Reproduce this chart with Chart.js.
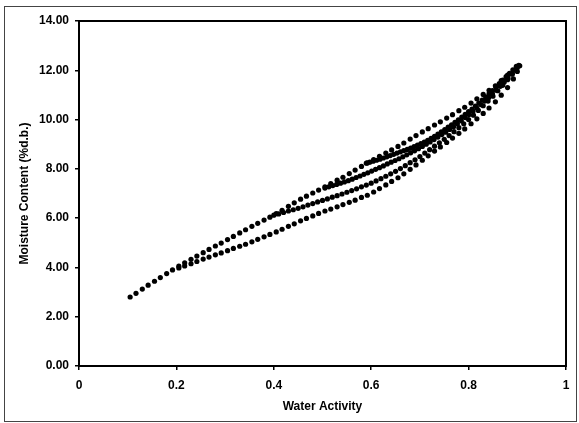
<!DOCTYPE html>
<html lang="en">
<head>
  <meta charset="UTF-8">
  <title>Moisture Sorption</title>
  <script src="https://cdn.jsdelivr.net/npm/chart.js"></script>
  <style>
    body {
      margin: 0;
      background: #ffffff;
    }
    canvas {
      display: block;
    }
  </style>
</head>
<body>

  <canvas id="sorptionChart" width="579" height="423"></canvas>

  <script>
    const xTickLabels = ['0', '0.2', '0.4', '0.6', '0.8', '1'];
    const yTickLabels = ['0.00', '2.00', '4.00', '6.00', '8.00', '10.00', '12.00', '14.00'];

    // upper dotted curve (whole range)
    const curveTop = [
      [0.105, 2.80], [0.117, 2.95], [0.130, 3.12], [0.142, 3.28], [0.155, 3.44], [0.167, 3.59],
      [0.180, 3.75], [0.192, 3.90], [0.205, 4.05], [0.217, 4.19], [0.230, 4.33], [0.242, 4.46],
      [0.255, 4.60], [0.267, 4.73], [0.280, 4.87], [0.292, 4.99], [0.305, 5.13], [0.317, 5.26],
      [0.330, 5.40], [0.342, 5.53], [0.355, 5.67], [0.367, 5.79], [0.380, 5.92], [0.392, 6.04],
      [0.405, 6.18], [0.417, 6.32], [0.430, 6.48], [0.442, 6.62], [0.455, 6.77], [0.467, 6.89],
      [0.480, 7.02], [0.492, 7.14], [0.505, 7.27], [0.517, 7.40], [0.530, 7.54], [0.542, 7.66],
      [0.555, 7.81], [0.567, 7.95], [0.580, 8.10], [0.592, 8.24], [0.605, 8.38], [0.617, 8.51],
      [0.630, 8.64], [0.642, 8.77], [0.655, 8.91], [0.667, 9.05], [0.680, 9.21], [0.692, 9.35],
      [0.705, 9.50], [0.717, 9.63], [0.730, 9.78], [0.742, 9.91], [0.755, 10.06], [0.767, 10.20],
      [0.780, 10.36], [0.792, 10.50], [0.805, 10.67], [0.817, 10.84], [0.830, 11.02], [0.842, 11.19],
      [0.855, 11.37], [0.867, 11.58], [0.880, 11.80], [0.892, 12.00], [0.903, 12.20]
    ];

    // lower dotted curve
    const curveBottom = [
      [0.205, 3.98], [0.217, 4.06], [0.230, 4.15], [0.242, 4.24], [0.255, 4.34], [0.267, 4.42],
      [0.280, 4.51], [0.292, 4.59], [0.305, 4.68], [0.317, 4.77], [0.330, 4.86], [0.342, 4.94],
      [0.355, 5.04], [0.367, 5.14], [0.380, 5.24], [0.392, 5.34], [0.405, 5.44], [0.417, 5.55],
      [0.430, 5.67], [0.442, 5.77], [0.455, 5.89], [0.467, 5.99], [0.480, 6.09], [0.492, 6.19],
      [0.505, 6.29], [0.517, 6.37], [0.530, 6.46], [0.542, 6.55], [0.555, 6.64], [0.567, 6.73],
      [0.580, 6.84], [0.592, 6.93], [0.605, 7.06], [0.617, 7.20], [0.630, 7.35], [0.642, 7.49],
      [0.655, 7.64], [0.667, 7.80], [0.680, 7.98], [0.692, 8.16], [0.705, 8.35], [0.717, 8.53],
      [0.730, 8.72], [0.742, 8.89], [0.755, 9.07], [0.767, 9.25], [0.780, 9.44], [0.792, 9.62],
      [0.805, 9.83], [0.817, 10.03], [0.830, 10.25], [0.842, 10.47], [0.855, 10.72], [0.867, 10.99],
      [0.880, 11.30], [0.892, 11.65], [0.900, 11.95]
    ];

    // scanning curve from aw 0.4
    const scan40 = [
      [0.40, 6.12], [0.41, 6.17], [0.42, 6.23], [0.43, 6.29], [0.44, 6.34], [0.45, 6.40],
      [0.46, 6.46], [0.47, 6.53], [0.48, 6.59], [0.49, 6.66], [0.50, 6.72], [0.51, 6.78],
      [0.52, 6.85], [0.53, 6.91], [0.54, 6.98], [0.55, 7.05], [0.56, 7.12], [0.57, 7.19],
      [0.58, 7.27], [0.59, 7.34], [0.60, 7.42], [0.61, 7.51], [0.62, 7.60], [0.63, 7.70],
      [0.64, 7.80], [0.65, 7.90], [0.66, 8.01], [0.67, 8.13], [0.68, 8.25], [0.69, 8.37],
      [0.70, 8.50], [0.71, 8.64], [0.72, 8.78], [0.73, 8.92], [0.74, 9.06], [0.75, 9.20],
      [0.76, 9.35], [0.77, 9.51], [0.78, 9.67], [0.79, 9.83], [0.80, 10.00], [0.81, 10.18],
      [0.82, 10.37], [0.83, 10.56], [0.84, 10.75], [0.85, 10.95], [0.86, 11.17], [0.87, 11.39],
      [0.88, 11.62], [0.89, 11.86], [0.90, 12.10]
    ];

    // scanning curve from aw 0.5
    const scan50 = [
      [0.505, 7.22], [0.513, 7.27], [0.521, 7.32], [0.529, 7.37], [0.537, 7.42], [0.545, 7.47],
      [0.553, 7.52], [0.561, 7.58], [0.569, 7.65], [0.577, 7.71], [0.585, 7.78], [0.593, 7.84],
      [0.601, 7.91], [0.609, 7.98], [0.617, 8.05], [0.625, 8.12], [0.633, 8.20], [0.641, 8.27],
      [0.649, 8.34], [0.657, 8.41], [0.665, 8.49], [0.673, 8.57], [0.681, 8.65], [0.689, 8.73],
      [0.697, 8.82], [0.705, 8.91], [0.713, 9.00], [0.721, 9.09], [0.729, 9.19], [0.737, 9.29],
      [0.745, 9.39], [0.753, 9.49], [0.761, 9.60], [0.769, 9.71], [0.777, 9.83], [0.785, 9.95],
      [0.793, 10.08], [0.801, 10.21], [0.809, 10.34], [0.817, 10.47], [0.825, 10.61], [0.833, 10.75],
      [0.841, 10.89], [0.849, 11.04], [0.857, 11.19], [0.865, 11.35], [0.873, 11.51], [0.881, 11.67],
      [0.889, 11.84], [0.897, 12.01], [0.905, 12.18]
    ];

    // scanning curve from aw 0.6
    const scan60 = [
      [0.590, 8.23], [0.597, 8.27], [0.604, 8.31], [0.611, 8.35], [0.618, 8.39], [0.625, 8.44],
      [0.632, 8.49], [0.639, 8.54], [0.646, 8.59], [0.653, 8.64], [0.660, 8.69], [0.667, 8.74],
      [0.674, 8.79], [0.681, 8.84], [0.688, 8.90], [0.695, 8.96], [0.702, 9.02], [0.709, 9.09],
      [0.716, 9.16], [0.723, 9.24], [0.730, 9.32], [0.737, 9.41], [0.744, 9.50], [0.751, 9.59],
      [0.758, 9.69], [0.765, 9.79], [0.772, 9.89], [0.779, 9.99], [0.786, 10.10], [0.793, 10.21],
      [0.800, 10.32], [0.807, 10.43], [0.814, 10.55], [0.821, 10.67], [0.828, 10.79], [0.835, 10.92],
      [0.842, 11.05], [0.849, 11.18], [0.856, 11.32], [0.863, 11.46], [0.870, 11.60], [0.877, 11.74],
      [0.884, 11.88], [0.891, 12.02], [0.898, 12.16]
    ];

    const font = { family: "'Liberation Sans', Arial, sans-serif", size: 12, weight: 'bold' };

    function toPoints(list) {
      return list.map(p => ({ x: p[0], y: p[1] }));
    }

    function dotSet(list) {
      return {
        data: toPoints(list),
        showLine: false,
        pointRadius: 2.6,
        pointBorderWidth: 0,
        pointBackgroundColor: '#000000',
        pointBorderColor: '#000000'
      };
    }

    // frame around plot area and whole picture
    const frames = {
      id: 'frames',
      beforeDraw(chart) {
        const c = chart.ctx;
        c.save();
        c.strokeStyle = '#444444';
        c.lineWidth = 1;
        c.strokeRect(4.5, 6.5, 572, 415);
        c.restore();
      },
      afterDraw(chart) {
        const a = chart.chartArea;
        const c = chart.ctx;
        c.save();
        c.strokeStyle = '#000000';
        c.lineWidth = 2;
        c.strokeRect(a.left, a.top, a.right - a.left, a.bottom - a.top);
        c.restore();
      }
    };

    new Chart(document.getElementById('sorptionChart'), {
      type: 'scatter',
      data: {
        datasets: [
          dotSet(curveTop),
          dotSet(curveBottom),
          dotSet(scan40),
          dotSet(scan50),
          dotSet(scan60)
        ]
      },
      options: {
        responsive: false,
        animation: false,
        layout: { padding: { left: 0, right: 13, top: 21, bottom: 0 } },
        plugins: {
          legend: { display: false },
          tooltip: { enabled: false }
        },
        scales: {
          x: {
            type: 'linear',
            min: 0,
            max: 1,
            afterFit: s => { s.height = 57; },
            ticks: {
              stepSize: 0.2,
              color: '#000000',
              font: font,
              padding: 8,
              maxRotation: 0,
              autoSkip: false,
              callback: (v, i) => xTickLabels[i]
            },
            grid: { drawOnChartArea: false, tickLength: 4, color: '#000000', lineWidth: 1.5 },
            border: { color: '#000000', width: 2 },
            title: {
              display: true,
              text: 'Water Activity',
              color: '#000000',
              font: font,
              padding: { top: 4, bottom: 9.1 }
            }
          },
          y: {
            min: 0,
            max: 14,
            afterFit: s => { s.width = 79; },
            ticks: {
              stepSize: 2,
              color: '#000000',
              font: font,
              padding: 6,
              autoSkip: false,
              callback: (v, i) => yTickLabels[i]
            },
            grid: { drawOnChartArea: false, tickLength: 4, color: '#000000', lineWidth: 1.5 },
            border: { color: '#000000', width: 2 },
            title: {
              display: true,
              text: 'Moisture Content (%d.b.)',
              color: '#000000',
              font: font,
              padding: { top: 17.8, bottom: 4 }
            }
          }
        }
      },
      plugins: [frames]
    });
  </script>

</body>
</html>
